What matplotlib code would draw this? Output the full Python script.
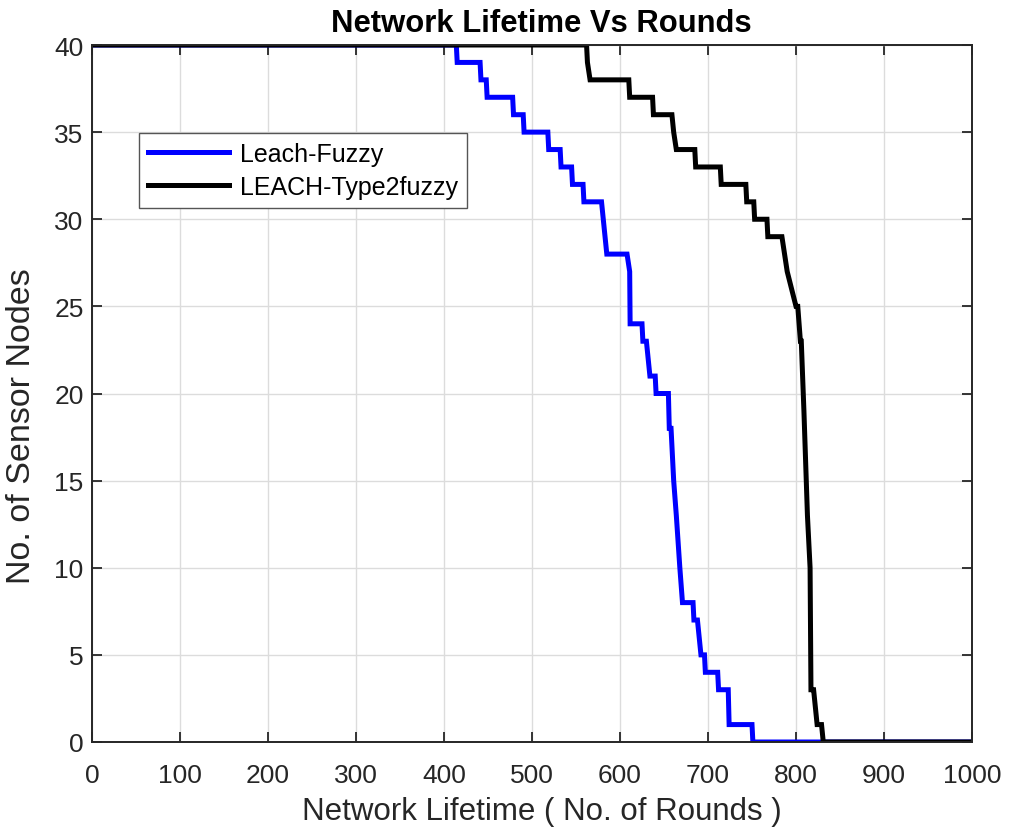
import matplotlib
matplotlib.use("Agg")
import matplotlib.pyplot as plt

plt.rcParams['font.family'] = ['Liberation Sans', 'DejaVu Sans']

# Leach-Fuzzy: (round, alive nodes) vertices
fuzzy_rounds = [0, 414, 415, 441, 442, 448, 449, 478, 479, 490, 491, 518, 519, 532, 533,
                545, 546, 558, 559, 579, 583, 585, 608, 611, 611.5, 625, 626, 630, 632, 634,
                640, 641, 655, 656, 658, 661, 664, 668, 671, 683, 684, 688, 690, 692, 696,
                697, 711, 712, 723, 724, 750, 751, 1000]
fuzzy_nodes = [40, 40, 39, 39, 38, 38, 37, 37, 36, 36, 35, 35, 34, 34, 33,
               33, 32, 32, 31, 31, 29, 28, 28, 27, 24, 24, 23, 23, 22, 21,
               21, 20, 20, 18, 18, 15, 13, 10, 8, 8, 7, 7, 6, 5, 5,
               4, 4, 3, 3, 1, 1, 0, 0]

# LEACH-Type2fuzzy
t2_rounds = [0, 562, 563, 566, 610, 611, 637, 638, 659, 661, 664, 685, 686, 714, 715,
             743, 744, 752, 753, 767, 768, 784, 787, 790, 795, 800, 802, 805, 806, 809,
             813, 816, 817, 820, 822, 824, 829, 831, 1000]
t2_nodes = [40, 40, 39, 38, 38, 37, 37, 36, 36, 35, 34, 34, 33, 33, 32,
            32, 31, 31, 30, 30, 29, 29, 28, 27, 26, 25, 25, 23, 23, 19,
            13, 10, 3, 3, 2, 1, 1, 0, 0]

x_ticks = list(range(0, 1001, 100))
y_ticks = list(range(0, 41, 5))

W, H = 1015, 829
fig = plt.figure(figsize=(W / 100, H / 100), dpi=100)
ax = fig.add_axes([92 / W, (H - 743) / H, 880 / W, 697 / H])

ax.plot(fuzzy_rounds, fuzzy_nodes, color='#0000ff', lw=3.6, label='Leach-Fuzzy',
        solid_joinstyle='miter')
ax.plot(t2_rounds, t2_nodes, color='black', lw=3.6, label='LEACH-Type2fuzzy',
        solid_joinstyle='miter')

ax.set_xlim(0, 1000)
ax.set_ylim(0, 40)
ax.set_xticks(x_ticks)
ax.set_yticks(y_ticks)
ax.grid(True, color='#dcdcdc', lw=1.0)
ax.set_axisbelow(True)
ax.tick_params(direction='in', top=True, right=True, length=7, width=1.3,
               labelsize=19, colors='#262626')
ax.tick_params(axis='x', pad=15)
ax.tick_params(axis='y', pad=6)
for s in ax.spines.values():
    s.set_color('#262626')
    s.set_linewidth(1.4)

ax.set_title('Network Lifetime Vs Rounds', fontsize=22.3, fontweight='bold', pad=10, x=0.511)
ax.set_xlabel('Network Lifetime ( No. of Rounds )', fontsize=22.5, color='#262626')
ax.xaxis.set_label_coords(0.511, -0.078)
ax.set_ylabel('No. of Sensor Nodes', fontsize=24.5, color='#262626')
ax.yaxis.set_label_coords(-0.063, 0.455)

leg = ax.legend(loc='upper left', bbox_to_anchor=(0.0534, 0.874), borderaxespad=0,
                fontsize=18, handlelength=3.25, handletextpad=0.45, labelspacing=0.38,
                fancybox=False, framealpha=1, edgecolor='#555555', borderpad=0.35)
leg.get_frame().set_linewidth(1.0)

fig.savefig('out.png', dpi=100)
